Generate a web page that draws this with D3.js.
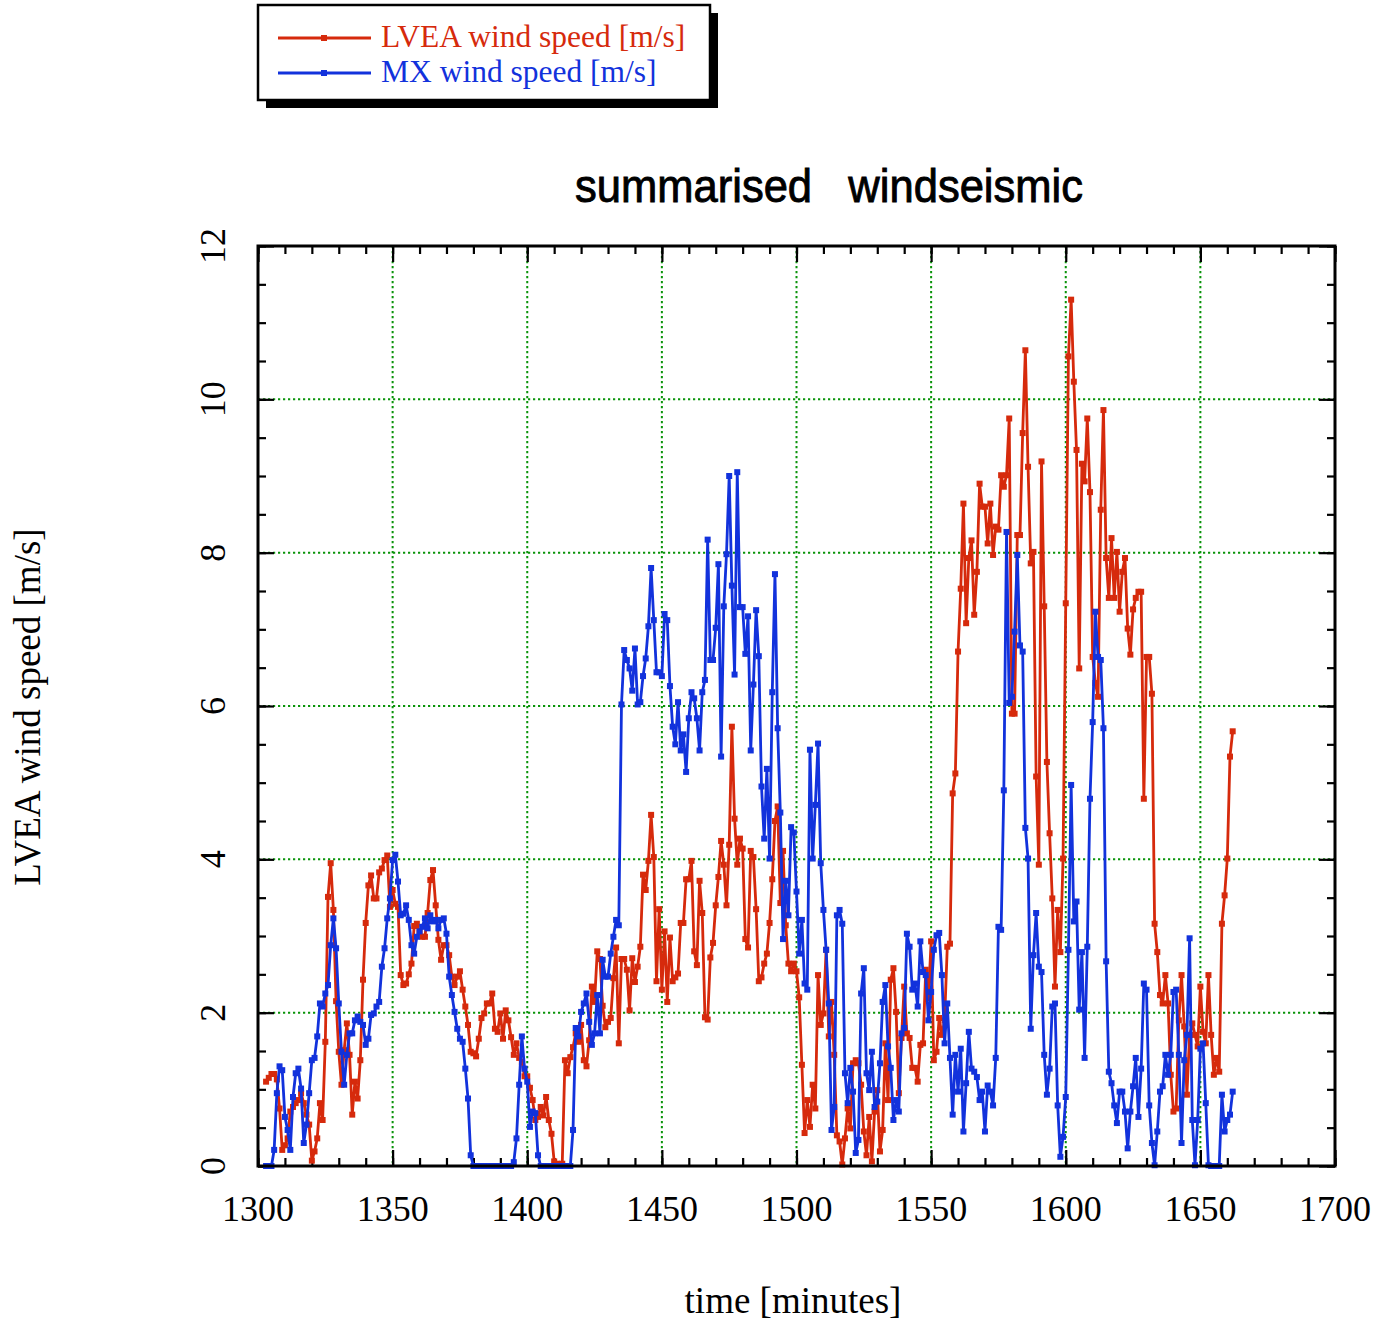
<!DOCTYPE html>
<html>
<head>
<meta charset="utf-8">
<script src="https://cdn.jsdelivr.net/npm/d3@7"></script>
<style>
  body { margin: 0; background: #ffffff; }
  svg { display: block; }
</style>
</head>
<body>
<svg id="chart" width="1390" height="1324"></svg>
<script>
// One sample per minute, starting at this minute
const firstMinute = 1303;

// LVEA wind speed [m/s], rows of ten minutes (first row 1303-1309)
const lveaSpeed = [
  1.10, 1.15, 1.20, 1.20, 1.13, 0.75, 0.21,
  0.27, 0.36, 0.71, 0.77, 0.82, 0.86, 0.95, 0.82, 0.67, 0.54,
  0.07, 0.19, 0.36, 0.82, 0.60, 1.62, 3.51, 3.95, 3.34, 2.15,
  1.49, 1.06, 1.51, 1.86, 1.45, 0.67, 1.10, 0.88, 1.38, 2.43,
  3.17, 3.66, 3.79, 3.49, 3.49, 3.83, 3.88, 3.99, 4.05, 3.38,
  3.60, 3.42, 3.38, 2.49, 2.36, 2.38, 2.50, 2.64, 3.13, 3.16,
  3.05, 2.99, 2.99, 3.30, 3.73, 3.86, 3.40, 2.95, 2.69, 2.88,
  2.88, 2.75, 2.47, 2.36, 2.47, 2.54, 2.30, 2.08, 1.84, 1.49,
  1.47, 1.43, 1.66, 1.93, 1.99, 2.12, 2.12, 2.25, 1.79, 1.75,
  1.99, 1.66, 2.03, 1.90, 1.68, 1.45, 1.60, 1.41, 1.36, 1.17,
  1.17, 1.02, 0.86, 0.60, 0.64, 0.77, 0.66, 0.90, 0.60, 0.42,
  0.06, 0.03, 0.02, 0.03, 1.38, 1.21, 1.42, 1.55, 1.73, 1.62,
  1.84, 1.38, 1.30, 1.64, 2.34, 2.14, 2.80, 2.70, 2.09, 1.81,
  1.88, 1.93, 2.45, 2.85, 1.60, 2.70, 2.70, 2.56, 2.03, 2.71,
  2.40, 2.60, 2.86, 3.80, 3.60, 3.98, 4.58, 4.03, 2.41, 3.35,
  2.30, 3.06, 2.14, 2.98, 2.41, 2.46, 2.51, 3.17, 3.17, 3.74,
  3.74, 3.98, 2.80, 2.62, 3.72, 3.30, 1.94, 1.91, 2.72, 2.91,
  3.40, 3.77, 4.24, 3.93, 3.40, 4.19, 5.73, 4.53, 3.93, 4.27,
  4.14, 2.96, 2.85, 4.11, 4.03, 3.35, 2.41, 2.46, 2.64, 2.77,
  3.17, 3.74, 4.50, 4.69, 3.43, 4.11, 3.14, 2.64, 2.54, 2.64,
  2.54, 2.20, 1.32, 0.43, 0.86, 0.51, 1.06, 0.75, 2.49, 1.84,
  1.99, 2.82, 1.69, 2.14, 1.45, 0.40, 0.32, 0.02, 0.36, 0.75,
  0.49, 1.34, 1.38, 1.34, 1.06, 0.45, 0.14, 0.64, 0.06, 0.71,
  0.99, 0.19, 0.47, 1.60, 0.86, 2.43, 2.58, 2.01, 0.95, 1.67,
  2.34, 1.73, 1.67, 1.28, 1.28, 1.10, 1.58, 1.60, 2.56, 2.19,
  2.93, 1.38, 1.49, 1.93, 1.71, 1.90, 2.86, 2.90, 4.86, 5.12,
  6.71, 7.53, 8.64, 7.08, 7.93, 8.16, 7.19, 7.75, 8.90, 8.60,
  8.60, 8.12, 8.64, 7.97, 8.34, 8.30, 9.01, 8.86, 9.01, 9.75,
  5.90, 5.90, 8.23, 8.23, 9.56, 10.64, 9.12, 7.86, 8.01, 5.08,
  3.93, 9.19, 7.30, 5.27, 4.34, 3.49, 2.34, 3.34, 2.79, 4.01,
  7.34, 10.56, 11.30, 10.23, 9.34, 6.49, 9.16, 8.93, 9.75, 8.79,
  6.64, 6.30, 6.12, 8.56, 9.86, 7.93, 7.41, 8.19, 7.41, 8.01,
  7.23, 7.75, 7.93, 7.01, 6.67, 7.26, 7.41, 7.49, 7.49, 4.79,
  6.64, 6.64, 6.16, 3.16, 2.79, 2.23, 2.12, 2.49, 2.12, 1.19,
  0.71, 0.75, 1.90, 2.49, 1.82, 0.93, 1.71, 1.86, 1.71, 1.56,
  2.34, 1.75, 1.60, 2.49, 1.71, 1.19, 1.41, 1.23, 3.16, 3.53,
  4.01, 5.34, 5.67
];

// MX wind speed [m/s], same minutes
const mxSpeed = [
  0.00, 0.00, 0.00, 0.21, 0.95, 1.30, 1.25,
  0.64, 0.47, 0.21, 0.90, 1.21, 1.27, 1.01, 0.30, 0.54, 0.95,
  1.38, 1.41, 1.69, 2.12, 2.08, 2.25, 2.36, 2.88, 3.23, 2.84,
  2.12, 1.49, 1.06, 1.45, 1.73, 1.73, 1.90, 1.95, 1.88, 1.84,
  1.58, 1.66, 1.97, 1.99, 2.08, 2.14, 2.60, 2.84, 3.23, 3.49,
  3.99, 4.06, 3.71, 3.27, 3.29, 3.40, 3.21, 2.88, 2.77, 2.99,
  3.06, 3.12, 3.23, 3.10, 3.27, 3.19, 3.21, 3.10, 3.21, 3.23,
  3.03, 2.47, 2.23, 2.01, 1.79, 1.66, 1.62, 1.27, 0.88, 0.14,
  0.00, 0.00, 0.00, 0.00, 0.00, 0.00, 0.00, 0.00, 0.00, 0.00,
  0.00, 0.00, 0.00, 0.00, 0.00, 0.05, 0.36, 1.06, 1.69, 1.27,
  1.10, 0.51, 0.71, 0.69, 0.14, 0.00, 0.00, 0.00, 0.00, 0.00,
  0.00, 0.00, 0.00, 0.00, 0.00, 0.00, 0.00, 0.47, 1.80, 1.69,
  2.01, 2.12, 2.25, 1.88, 1.58, 1.73, 2.23, 1.73, 2.69, 2.47,
  2.47, 2.77, 2.99, 3.21, 3.14, 6.02, 6.73, 6.60, 6.49, 6.20,
  6.75, 6.02, 6.05, 6.39, 6.62, 7.04, 7.80, 7.12, 6.44, 6.44,
  6.39, 7.20, 7.12, 6.26, 5.73, 5.50, 6.05, 5.42, 5.63, 5.14,
  5.84, 6.18, 6.10, 5.84, 5.42, 6.18, 6.34, 8.17, 6.60, 6.60,
  7.02, 7.85, 5.34, 7.30, 7.98, 9.00, 7.57, 6.41, 9.05, 7.29,
  7.29, 6.68, 7.17, 5.42, 6.28, 7.25, 6.65, 4.95, 4.27, 5.18,
  4.01, 6.18, 7.72, 5.71, 4.61, 2.96, 3.72, 3.27, 4.42, 4.35,
  3.58, 2.77, 3.21, 2.38, 2.30, 5.43, 4.01, 4.71, 5.51, 3.95,
  3.34, 2.82, 2.12, 0.47, 0.77, 3.27, 3.34, 3.16, 1.21, 0.82,
  1.28, 0.97, 0.17, 0.34, 2.25, 2.58, 1.21, 0.99, 1.49, 0.77,
  0.84, 1.34, 2.14, 2.36, 1.56, 1.28, 0.60, 0.86, 0.71, 1.73,
  1.80, 3.03, 2.86, 2.30, 2.38, 2.08, 2.93, 2.53, 2.49, 1.90,
  2.27, 2.82, 3.01, 3.04, 2.49, 1.60, 2.12, 1.41, 0.67, 1.45,
  0.97, 1.53, 0.45, 1.08, 1.75, 1.27, 1.23, 1.16, 0.86, 0.97,
  0.45, 1.05, 0.97, 0.79, 1.41, 3.12, 3.08, 4.90, 8.27, 6.04,
  6.12, 6.97, 7.97, 6.79, 6.71, 4.41, 4.01, 1.79, 2.75, 3.30,
  2.60, 2.53, 1.45, 0.93, 1.27, 2.08, 2.12, 0.79, 0.12, 0.38,
  0.90, 2.82, 4.97, 3.19, 3.45, 2.04, 2.79, 1.41, 2.86, 4.79,
  5.79, 7.23, 6.64, 6.60, 5.71, 2.67, 1.23, 1.08, 0.79, 0.56,
  0.97, 0.97, 0.71, 0.23, 0.71, 1.04, 1.41, 0.64, 1.27, 2.38,
  2.30, 0.79, 0.30, 0.01, 0.45, 0.97, 1.04, 1.45, 1.19, 1.45,
  2.27, 2.30, 1.45, 0.30, 1.38, 1.71, 2.97, 0.60, 0.01, 0.60,
  1.53, 1.60, 0.82, 0.01, 0.00, 0.00, 0.00, 0.00, 0.93, 0.45,
  0.60, 0.67, 0.97
];

const seriesNames = ["LVEA wind speed [m/s]", "MX wind speed [m/s]"];
const seriesColors = ["#d62a0c", "#1232dc"];

const xMajorTicks = [1300, 1350, 1400, 1450, 1500, 1550, 1600, 1650, 1700];
const xMinorStep = 10;
const yMajorTicks = [0, 2, 4, 6, 8, 10, 12];
const yMinorStep = 0.5;

const chartTitle = "summarised   windseismic";
const xTitle = "time [minutes]";
const yTitle = "LVEA wind speed [m/s]";

// ---- layout ----
const plot = { left: 258, right: 1335, top: 246, bottom: 1166 };
const serif = "'Liberation Serif', 'Times New Roman', serif";
const sans = "'Liberation Sans', Arial, Helvetica, sans-serif";

const svg = d3.select("#chart");

const x = d3.scaleLinear().domain([1300, 1700]).range([plot.left, plot.right]);
const y = d3.scaleLinear().domain([0, 12]).range([plot.bottom, plot.top]);

const minutes = d3.range(firstMinute, firstMinute + lveaSpeed.length);
const series = [lveaSpeed, mxSpeed].map((vals, i) => ({
  name: seriesNames[i],
  color: seriesColors[i],
  points: vals.map((v, j) => ({ t: minutes[j], v }))
}));

// ---- grid (green dotted) ----
const grid = svg.append("g").attr("class", "grid")
  .attr("stroke", "#0a940a").attr("stroke-width", 2).attr("stroke-dasharray", "2.2,2.8");
grid.selectAll("line.gx")
  .data(xMajorTicks.filter(d => d > 1300 && d < 1700))
  .join("line").attr("class", "gx")
  .attr("x1", d => x(d)).attr("x2", d => x(d))
  .attr("y1", plot.top).attr("y2", plot.bottom);
grid.selectAll("line.gy")
  .data(yMajorTicks.filter(d => d > 0 && d < 12))
  .join("line").attr("class", "gy")
  .attr("y1", d => y(d)).attr("y2", d => y(d))
  .attr("x1", plot.left).attr("x2", plot.right);

// ---- ticks on all four sides, pointing inward ----
const xMinor = d3.range(1300, 1700 + 1e-9, xMinorStep);
const yMinor = d3.range(0, 12 + 1e-9, yMinorStep);

function tickAxis(axisFn, scale, values, size, transform) {
  const g = svg.append("g").attr("transform", transform)
    .call(axisFn(scale).tickValues(values).tickSizeInner(-size).tickSizeOuter(0).tickFormat(""));
  g.select(".domain").remove();
  g.selectAll(".tick line").attr("stroke", "#000").attr("stroke-width", 2.2);
  return g;
}
tickAxis(d3.axisBottom, x, xMinor, 8, `translate(0,${plot.bottom})`);
tickAxis(d3.axisBottom, x, xMajorTicks, 16, `translate(0,${plot.bottom})`);
tickAxis(d3.axisTop, x, xMinor, 8, `translate(0,${plot.top})`);
tickAxis(d3.axisTop, x, xMajorTicks, 16, `translate(0,${plot.top})`);
tickAxis(d3.axisLeft, y, yMinor, 8, `translate(${plot.left},0)`);
tickAxis(d3.axisLeft, y, yMajorTicks, 16, `translate(${plot.left},0)`);
tickAxis(d3.axisRight, y, yMinor, 8, `translate(${plot.right},0)`);
tickAxis(d3.axisRight, y, yMajorTicks, 16, `translate(${plot.right},0)`);

// x tick labels
svg.append("g").selectAll("text")
  .data(xMajorTicks).join("text")
  .attr("x", d => x(d)).attr("y", plot.bottom + 55)
  .attr("text-anchor", "middle")
  .attr("font-family", serif).attr("font-size", 36).attr("fill", "#000")
  .text(d => d);

// y tick labels, rotated
svg.append("g").selectAll("text")
  .data(yMajorTicks).join("text")
  .attr("transform", d => `translate(225,${y(d)}) rotate(-90)`)
  .attr("text-anchor", "middle")
  .attr("font-family", serif).attr("font-size", 36).attr("fill", "#000")
  .text(d => d);

// ---- data lines and square markers ----
const line = d3.line().x(d => x(d.t)).y(d => y(d.v));
const dataLayer = svg.append("g");
series.forEach(s => {
  dataLayer.append("path")
    .datum(s.points)
    .attr("fill", "none").attr("stroke", s.color)
    .attr("stroke-width", 2.8).attr("stroke-linejoin", "round")
    .attr("d", line);
  dataLayer.append("g").selectAll("rect")
    .data(s.points).join("rect")
    .attr("x", d => x(d.t) - 3).attr("y", d => y(d.v) - 3)
    .attr("width", 6).attr("height", 6)
    .attr("fill", s.color);
});

// ---- frame ----
svg.append("rect")
  .attr("x", plot.left).attr("y", plot.top)
  .attr("width", plot.right - plot.left).attr("height", plot.bottom - plot.top)
  .attr("fill", "none").attr("stroke", "#000").attr("stroke-width", 3);

// ---- titles ----
svg.append("text")
  .attr("x", 575).attr("y", 202)
  .attr("font-family", sans).attr("font-size", 46).attr("fill", "#000")
  .attr("stroke", "#000").attr("stroke-width", 0.9)
  .attr("textLength", 508).attr("lengthAdjust", "spacingAndGlyphs")
  .style("white-space", "pre")
  .text(chartTitle);

svg.append("text")
  .attr("x", 793).attr("y", 1313)
  .attr("text-anchor", "middle")
  .attr("font-family", serif).attr("font-size", 37).attr("fill", "#000")
  .text(xTitle);

svg.append("text")
  .attr("transform", `translate(40,${707}) rotate(-90)`)
  .attr("text-anchor", "middle")
  .attr("font-family", serif).attr("font-size", 37).attr("fill", "#000")
  .text(yTitle);

// ---- legend with drop shadow ----
const legendBox = { x: 258, y: 5, w: 452, h: 95, shadow: 8 };
const legend = svg.append("g");
legend.append("rect")
  .attr("x", legendBox.x + legendBox.shadow).attr("y", legendBox.y + legendBox.shadow)
  .attr("width", legendBox.w).attr("height", legendBox.h).attr("fill", "#000");
legend.append("rect")
  .attr("x", legendBox.x).attr("y", legendBox.y)
  .attr("width", legendBox.w).attr("height", legendBox.h)
  .attr("fill", "#fff").attr("stroke", "#000").attr("stroke-width", 2.5);

const legendRows = legend.selectAll("g.row")
  .data(series).join("g").attr("class", "row")
  .attr("transform", (d, i) => `translate(0,${38 + i * 35})`);
legendRows.append("line")
  .attr("x1", 278).attr("x2", 371).attr("y1", 0).attr("y2", 0)
  .attr("stroke", d => d.color).attr("stroke-width", 2.8);
legendRows.append("rect")
  .attr("x", 321).attr("y", -3).attr("width", 6).attr("height", 6)
  .attr("fill", d => d.color);
legendRows.append("text")
  .attr("x", 381).attr("y", 9)
  .attr("font-family", serif).attr("font-size", 31.5)
  .attr("fill", d => d.color)
  .text(d => d.name);
</script>
</body>
</html>
